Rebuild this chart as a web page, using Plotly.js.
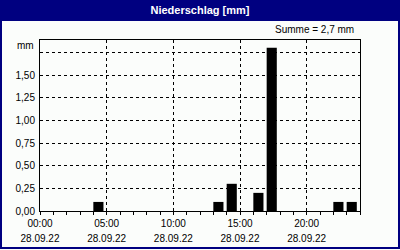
<!DOCTYPE html>
<html>
<head>
<meta charset="utf-8">
<script src="https://cdn.plot.ly/plotly-3.0.1.min.js"></script>
<style>
html,body{margin:0;padding:0;background:#fbfdfb;}
#chart{width:400px;height:250px;}
</style>
</head>
<body>
<div id="chart"></div>
<script>
// Data: hourly precipitation on 28.09.22 (bar = hour starting at given time)
const hourStarts = [4, 13, 14, 16, 17, 22, 23];
const precipMm = [0.1, 0.1, 0.3, 0.2, 1.8, 0.1, 0.1];
const xTickVals = [0, 5, 10, 15, 20];
const xTimeLabels = ["00:00", "05:00", "10:00", "15:00", "20:00"];
const xDateLabels = ["28.09.22", "28.09.22", "28.09.22", "28.09.22", "28.09.22"];
const yTickVals = [0, 0.25, 0.5, 0.75, 1.0, 1.25, 1.5, 1.75];
const yTickText = ["0,00", "0,25", "0,50", "0,75", "1,00", "1,25", "1,50", ""];
const titleText = "Niederschlag [mm]";
const sumText = "Summe = 2,7 mm";
const unitText = "mm";

const navy = "#000080";
const bg = "#fbfdfb";
const font = {family: "Liberation Sans, Arial, sans-serif", size: 10, color: "#000"};

const trace = {
  type: "bar",
  x: hourStarts,
  y: precipMm,
  offset: 0,
  width: 0.76,
  marker: {color: "#000", line: {width: 0}},
  hoverinfo: "none"
};

const layout = {
  width: 400, height: 250,
  margin: {l: 40, r: 40, t: 40, b: 39, pad: 0},
  paper_bgcolor: bg, plot_bgcolor: bg,
  font: font,
  showlegend: false,
  title: {
    text: titleText,
    font: {family: "Liberation Sans, Arial, sans-serif", size: 11, color: "#fff", weight: "bold"},
    x: 0.5, xref: "container", xanchor: "center",
    y: 1 - 10.5/250, yref: "container", yanchor: "middle"
  },
  xaxis: {
    range: [0, 24], fixedrange: true,
    tickmode: "array", tickvals: xTickVals, ticktext: xTimeLabels,
    ticks: "outside", ticklen: 3, tickcolor: "#000", tickwidth: 1,
    minor: {dtick: 1, tick0: 0, ticks: "outside", ticklen: 3, tickcolor: "#000", tickwidth: 1, showgrid: false},
    showgrid: true, gridcolor: "#000", gridwidth: 1, griddash: "3px,3px",
    showline: true, linecolor: "#000", linewidth: 1, mirror: true,
    zeroline: false,
    tickfont: font
  },
  xaxis2: {
    overlaying: "x", anchor: "y", side: "bottom",
    range: [0, 24], fixedrange: true,
    tickmode: "array", tickvals: xTickVals, ticktext: xDateLabels,
    ticks: "outside", ticklen: 3, tickcolor: "rgba(0,0,0,0)",
    ticklabelstandoff: 15,
    showgrid: false, showline: false, zeroline: false,
    tickfont: font
  },
  yaxis: {
    range: [0, 1.886], fixedrange: true,
    tickmode: "array", tickvals: yTickVals, ticktext: yTickText,
    ticks: "", ticklabelstandoff: 2,
    showgrid: true, gridcolor: "#000", gridwidth: 1, griddash: "3px,3px",
    showline: true, linecolor: "#000", linewidth: 1, mirror: true,
    zeroline: false,
    tickfont: font
  },
  shapes: [
    {type: "rect", xref: "paper", yref: "paper", xsizemode: "pixel", ysizemode: "pixel",
     xanchor: 0, yanchor: 0, x0: -40, x1: 360, y0: 190, y1: 211,
     fillcolor: navy, line: {width: 0}, layer: "above"},
    {type: "rect", xref: "paper", yref: "paper", xsizemode: "pixel", ysizemode: "pixel",
     xanchor: 0, yanchor: 0, x0: -39, x1: 359, y0: -37, y1: 210,
     fillcolor: "rgba(0,0,0,0)", line: {width: 2, color: navy}, layer: "above"}
  ],
  annotations: [
    {text: sumText, xref: "paper", yref: "paper", x: 1, y: 1, xanchor: "right", yanchor: "bottom",
     xshift: -4, yshift: 3, showarrow: false, font: font},
    {text: unitText, xref: "paper", yref: "paper", x: 0, y: 1, xanchor: "right", yanchor: "middle",
     xshift: -4, yshift: -5, showarrow: false, font: font}
  ]
};

const dateTrace = {type: "scatter", x: [], y: [], xaxis: "x2", yaxis: "y", hoverinfo: "none"};

Plotly.newPlot("chart", [trace, dateTrace], layout, {staticPlot: true, displayModeBar: false});
</script>
</body>
</html>
